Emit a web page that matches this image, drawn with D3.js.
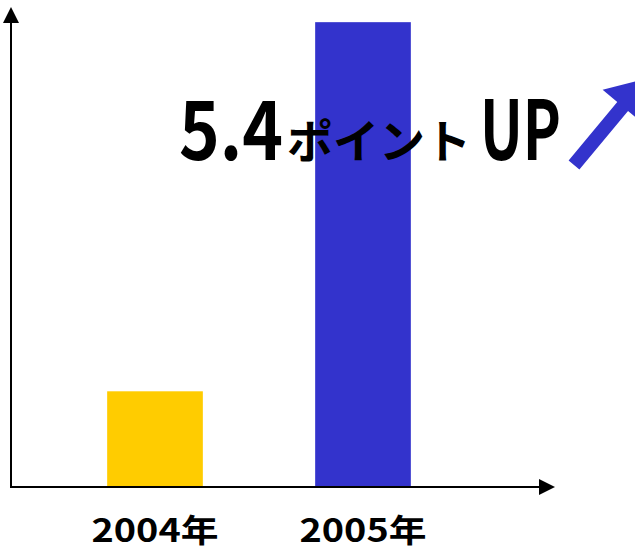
<!DOCTYPE html>
<html>
<head>
<meta charset="utf-8">
<script src="https://cdn.jsdelivr.net/npm/d3@7"></script>
<style>
  body { margin: 0; background: #fff; }
  text { font-family: "Noto Sans CJK JP", sans-serif; font-weight: 700; }
</style>
</head>
<body>
<div id="chart"></div>
<script>
var years = ["2004年", "2005年"];
var values = [1.4, 6.8];
var colors = ["#ffcc00", "#3333cc"];

var W = 635, H = 553;
var x0 = 11, y0 = 487;

var svg = d3.select("#chart").append("svg")
    .attr("width", W)
    .attr("height", H);

var x = d3.scaleBand()
    .domain(years)
    .range([51, 467])
    .paddingInner(0.54)
    .paddingOuter(0.27);

var y = d3.scaleLinear()
    .domain([0, 7])
    .range([y0, 8.5]);

// bars
svg.selectAll("rect.bar")
    .data(values)
    .enter().append("rect")
    .attr("class", "bar")
    .attr("x", function(d, i){ return x(years[i]); })
    .attr("y", function(d){ return y(d); })
    .attr("width", x.bandwidth())
    .attr("height", function(d){ return y0 - y(d); })
    .style("fill", function(d, i){ return colors[i]; });

// axes with arrow heads
svg.append("line")
    .attr("x1", x0).attr("y1", y0 + 1)
    .attr("x2", x0).attr("y2", 20)
    .style("stroke", "#000").style("stroke-width", 2);
svg.append("path")
    .attr("d", "M" + (x0 - 8) + ",23L" + x0 + ",7L" + (x0 + 8) + ",23Z")
    .style("fill", "#000");

svg.append("line")
    .attr("x1", x0 - 1).attr("y1", y0)
    .attr("x2", 542).attr("y2", y0)
    .style("stroke", "#000").style("stroke-width", 2);
svg.append("path")
    .attr("d", "M539," + (y0 - 8) + "L555," + y0 + "L539," + (y0 + 8) + "Z")
    .style("fill", "#000");

// category labels
svg.selectAll("text.year")
    .data(years)
    .enter().append("text")
    .attr("class", "year")
    .attr("x", function(d){ return x(d) + x.bandwidth() / 2; })
    .attr("y", 542)
    .attr("text-anchor", "middle")
    .attr("textLength", 127)
    .attr("lengthAdjust", "spacingAndGlyphs")
    .style("font-size", "32px")
    .style("fill", "#000")
    .text(function(d){ return d; });

// annotation
var diff = d3.format(".1f")(values[1] - values[0]);
var note = svg.append("g");
note.append("text")
    .attr("x", 179).attr("y", 160)
    .attr("textLength", 104).attr("lengthAdjust", "spacingAndGlyphs")
    .style("font-size", "82px")
    .text(diff);
note.append("text")
    .attr("x", 287).attr("y", 158)
    .attr("textLength", 184).attr("lengthAdjust", "spacingAndGlyphs")
    .style("font-size", "46px")
    .text("ポイント");
note.append("text")
    .attr("x", 480).attr("y", 160)
    .attr("textLength", 81).attr("lengthAdjust", "spacingAndGlyphs")
    .style("font-size", "82px")
    .text("UP");

// big rising arrow (partly off the right edge)
var sx = 574, sy = 165, ux = 0.64, uy = -0.77, L = 112, h = 36, sw = 7, hw = 26;
var tx = sx + L * ux, ty = sy + L * uy;
var bx = tx - h * ux, by = ty - h * uy;
var nx = -uy, ny = ux;
var pts = [
  [sx + sw * nx, sy + sw * ny],
  [bx + sw * nx, by + sw * ny],
  [bx + hw * nx, by + hw * ny],
  [tx, ty],
  [bx - hw * nx, by - hw * ny],
  [bx - sw * nx, by - sw * ny],
  [sx - sw * nx, sy - sw * ny]
];
svg.append("path")
    .attr("d", d3.line()(pts) + "Z")
    .style("fill", "#3333cc");
</script>
</body>
</html>
